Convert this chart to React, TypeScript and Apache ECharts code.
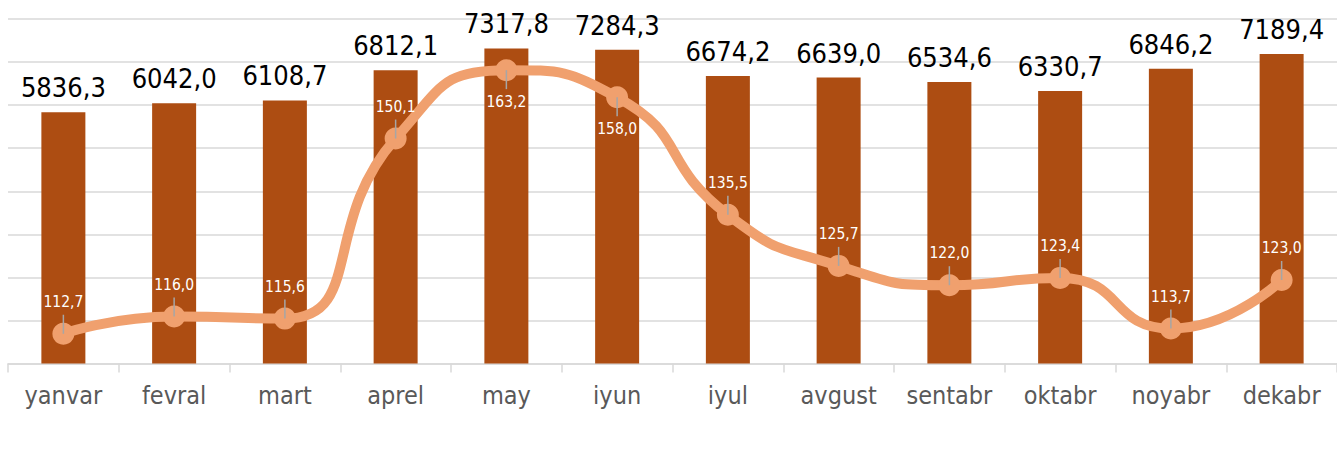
import React, { useEffect, useRef } from "react";
import * as echarts from "echarts";

const months = ["yanvar", "fevral", "mart", "aprel", "may", "iyun", "iyul", "avgust", "sentabr", "oktabr", "noyabr", "dekabr"];
const barValues = [5836.3, 6042.0, 6108.7, 6812.1, 7317.8, 7284.3, 6674.2, 6639.0, 6534.6, 6330.7, 6846.2, 7189.4];
const lineValues = [112.7, 116.0, 115.6, 150.1, 163.2, 158.0, 135.5, 125.7, 122.0, 123.4, 113.7, 123.0];
const labelsBelow = ["may", "iyun"];

const FONT = "'DejaVu Sans Condensed', 'DejaVu Sans', sans-serif";
const fmt = (v: number) => v.toFixed(1).replace(".", ",");

export default function App() {
  const ref = useRef<HTMLDivElement>(null);
  useEffect(() => {
    if (!ref.current) return;
    const chart = echarts.init(ref.current, null, { renderer: "svg" });
    chart.setOption({
      animation: false,
      backgroundColor: "#ffffff",
      grid: { left: 8, top: 19, width: 1336, height: 344.5 },
      xAxis: {
        type: "category",
        data: months,
        boundaryGap: true,
        axisLine: { lineStyle: { color: "#D9D9D9", width: 1.5 } },
        axisTick: { show: true, interval: 0, length: 9, lineStyle: { color: "#D9D9D9", width: 1.5 } },
        axisLabel: { interval: 0, color: "#595959", fontSize: 25, fontFamily: FONT, margin: 19 },
      },
      yAxis: [
        {
          type: "value",
          min: 0,
          max: 8000,
          interval: 1000,
          axisLabel: { show: false },
          axisLine: { show: false },
          axisTick: { show: false },
          splitLine: { lineStyle: { color: "#D9D9D9", width: 1.5 } },
        },
        {
          type: "value",
          min: 107,
          max: 173,
          axisLabel: { show: false },
          axisLine: { show: false },
          axisTick: { show: false },
          splitLine: { show: false },
        },
      ],
      series: [
        {
          type: "bar",
          data: barValues,
          barWidth: 44,
          itemStyle: { color: "#AD4D12" },
          label: {
            show: true,
            position: "top",
            distance: 11,
            color: "#000000",
            fontSize: 27,
            fontFamily: FONT,
            formatter: (p: any) => fmt(p.value),
          },
          z: 2,
        },
        {
          type: "line",
          yAxisIndex: 1,
          data: lineValues,
          smooth: 0.55,
          symbol: "circle",
          symbolSize: 22,
          lineStyle: { color: "#F0A06E", width: 10 },
          itemStyle: { color: "#F0A06E" },
          label: { show: false },
          z: 3,
        },
        {
          type: "custom",
          yAxisIndex: 1,
          data: lineValues.map((v, i) => [i, v]),
          z: 4,
          silent: true,
          renderItem: (params: any, api: any) => {
            const idx = api.value(0);
            const v = api.value(1);
            const p = api.coord([idx, v]);
            const dir = labelsBelow.includes(months[idx]) ? 1 : -1;
            return {
              type: "group",
              children: [
                {
                  type: "line",
                  shape: { x1: p[0], y1: p[1], x2: p[0], y2: p[1] + dir * 19 },
                  style: { stroke: "#A6A6A6", lineWidth: 1.5 },
                },
                {
                  type: "text",
                  style: {
                    text: fmt(v),
                    x: p[0],
                    y: p[1] + dir * 32,
                    align: "center",
                    verticalAlign: "middle",
                    fill: "#ffffff",
                    fontSize: 15.5,
                    fontFamily: FONT,
                  },
                },
              ],
            };
          },
        },
      ],
    });
    return () => chart.dispose();
  }, []);
  return (
    <div
      ref={ref}
      style={{ position: "fixed", left: 0, top: 0, width: 1337, height: 449, background: "#fff" }}
    />
  );
}
